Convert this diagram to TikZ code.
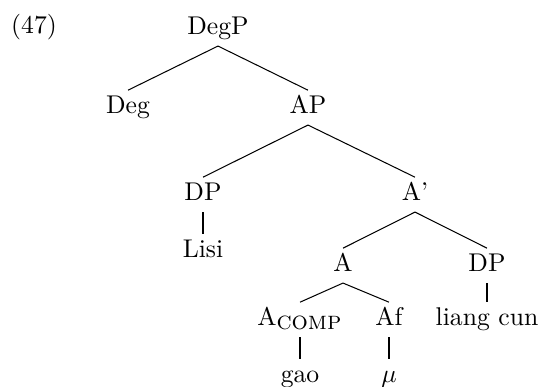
\documentclass[tikz,border=0pt]{standalone}
\usepackage{tikz}
\usetikzlibrary{positioning}
\tikzset{cat/.style={anchor=base, inner sep=2pt, text height=6.7pt, text depth=2.5pt}}

\begin{document}
\begin{tikzpicture}[x=0.39pt,y=-0.39pt]
\useasboundingbox (0,0) rectangle (541,386);
\tikzstyle{every node}+=[cat]
\node (ex) at (34,33) {(47)};
\node (degp) at (218,34) {DegP};
\node (deg) at (128,113) {Deg};
\node (ap) at (308,113) {AP};
\node (dpa) at (203,200) {DP};
\node (abar) at (415,200) {A'};
\node (lisi) at (203,257) {Lisi};
\node (a) at (343,271) {A};
\node (dpb) at (487,271) {DP};
\node (acomp) at (300,325) {A$_{\textsc{comp}}$};
\node (af) at (389,325) {Af};
\node (lc) at (487,325) {liang cun};
\node (gao) at (300,382) {gao};
\node (mu) at (389,382) {$\mu$};
\draw (degp.south) -- (deg.north);
\draw (degp.south) -- (ap.north);
\draw (ap.south) -- (dpa.north);
\draw (ap.south) -- (abar.north);
\draw (dpa.south) -- (lisi.north);
\draw (abar.south) -- (a.north);
\draw (abar.south) -- (dpb.north);
\draw (dpb.south) -- (lc.north);
\draw (a.south) -- (acomp.north);
\draw (a.south) -- (af.north);
\draw (acomp.south) -- (gao.north);
\draw (af.south) -- (mu.north);
\end{tikzpicture}
\end{document}
